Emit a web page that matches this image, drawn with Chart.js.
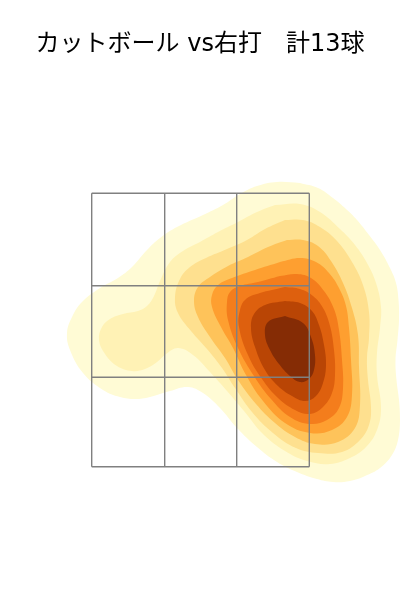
<!DOCTYPE html>
<html><head><meta charset="utf-8">
<style>html,body{margin:0;padding:0;background:#fff}canvas{display:block}</style>
<script src="https://cdn.jsdelivr.net/npm/chart.js@4"></script>
</head><body><canvas id="c" width="400" height="600"></canvas>
<script>
const titleText = "カットボール vs右打　計13球";
const gridX = [91.7,164.7,236.7,309.3];
const gridY = [193.3,285.7,377.3,466.7];
const levelColors = ["#fffbd5","#fff2b5","#fee08f","#fec35a","#fe9f30","#f47d1c","#de600e","#b94505","#852c05"];
const level1 = [[300,183],[318,188],[333,198],[346,209],[357,220],[369,235],[380,250],[390,268],[396,283],[398.5,300],[399,320],[397.5,340],[395.5,360],[396.5,380],[399,400],[400,420],[398,440],[392,455],[380,468],[365,476],[350,481],[333,482],[317,479],[297,472],[277,462],[257,447],[237,428],[220,408],[203,393],[188,387],[170,391],[150,397],[135,399],[120,397],[103,390],[83,373],[70,350],[67,333],[72,317],[82,302],[100,288],[118,278],[132,267],[147,250],[160,238],[177,227],[203,215],[223,205],[240,194],[257,186],[277,182]];
const level2 = [[275,205],[300,204],[320,212],[340,229],[355,245],[367,263],[376,283],[381,307],[380,328],[377,353],[377,375],[381,408],[377,430],[366,447],[350,458],[330,464],[307,461],[285,451],[263,434],[244,411],[227,391],[210,372],[193,355],[178,348],[166,354],[157,362],[145,369],[132,371],[117,366],[105,354],[99,340],[102,327],[110,319],[123,314],[138,311],[147,306],[154,296],[160,281],[170,262],[183,251],[200,242],[218,232],[238,222],[257,212]];
const level3 = [[285,220],[303,220],[320,227],[337,241],[352,262],[363,285],[369,312],[369,338],[367,358],[368,380],[371,407],[369,425],[360,440],[342,452],[318,453],[296,448],[273,433],[252,412],[235,388],[222,368],[207,349],[191,331],[178,313],[175,297],[180,279],[190,267],[206,258],[227,249],[247,240],[265,229]];
const level4 = [[287,240],[303,240],[318,246],[331,261],[343,283],[352,308],[358,335],[359,367],[360,405],[355,428],[338,442],[315,444],[295,437],[275,423],[256,404],[238,380],[225,358],[210,337],[198,317],[194,301],[198,287],[210,277],[228,266],[248,257],[268,247]];
const level5 = [[280,262],[300,258],[316,262],[329,273],[339,288],[346,306],[349,328],[351,360],[352,395],[347,417],[332,430],[310,433],[285,423],[263,401],[246,375],[233,348],[221,327],[212,307],[212,295],[218,285],[232,278],[255,270]];
const level6 = [[280,276],[297,274],[311,278],[324,291],[334,309],[339,330],[342,360],[343,388],[339,408],[327,420],[310,424],[290,417],[271,399],[254,376],[238,348],[228,320],[227,302],[230,292],[240,286],[258,282]];
const level7 = [[285,287],[300,289],[313,296],[323,308],[330,326],[334,350],[335,375],[332,393],[323,407],[310,414],[295,410],[278,398],[262,379],[248,355],[239,327],[240,310],[246,299],[260,293],[272,290]];
const level8 = [[285,301],[300,303],[312,311],[319,325],[324,345],[326,365],[323,383],[316,396],[305,401],[292,396],[278,386],[265,370],[255,347],[251,328],[254,314],[265,305]];
const level9 = [[285,316],[303,323],[311,337],[315,355],[314,370],[309,379],[300,382],[290,376],[279,364],[270,350],[265,335],[268,322]];
const levels = [level1,level2,level3,level4,level5,level6,level7,level8,level9];

const toPts = a => a.concat([a[0]]).map(p => ({x:p[0], y:p[1]}));
const datasets = [];
gridX.forEach(x => datasets.push({data:[{x:x,y:gridY[0]},{x:x,y:gridY[3]}],showLine:true,borderColor:"#808080",borderWidth:1.4,pointRadius:0,fill:false,tension:0}));
gridY.forEach(y => datasets.push({data:[{x:gridX[0],y:y},{x:gridX[3],y:y}],showLine:true,borderColor:"#808080",borderWidth:1.4,pointRadius:0,fill:false,tension:0}));
for (let i = levels.length-1; i >= 0; i--) {
  datasets.push({data:toPts(levels[i]),showLine:true,borderWidth:0,borderColor:levelColors[i],backgroundColor:levelColors[i],pointRadius:0,fill:"shape",tension:0.4});
}
new Chart(document.getElementById("c"),{
  type:"scatter",
  data:{datasets},
  options:{
    responsive:false,animation:false,
    layout:{padding:0},
    plugins:{legend:{display:false},tooltip:{enabled:false},
      title:{display:true,text:titleText,color:"#000",align:"center",
        font:{family:"'DejaVu Sans','Noto Sans CJK JP'",size:24,weight:"normal",lineHeight:1},
        padding:{top:33,bottom:3}}},
    scales:{
      x:{type:"linear",min:0,max:400,display:false},
      y:{type:"linear",min:60,max:600,reverse:true,display:false}
    }
  }
});
</script></body></html>
